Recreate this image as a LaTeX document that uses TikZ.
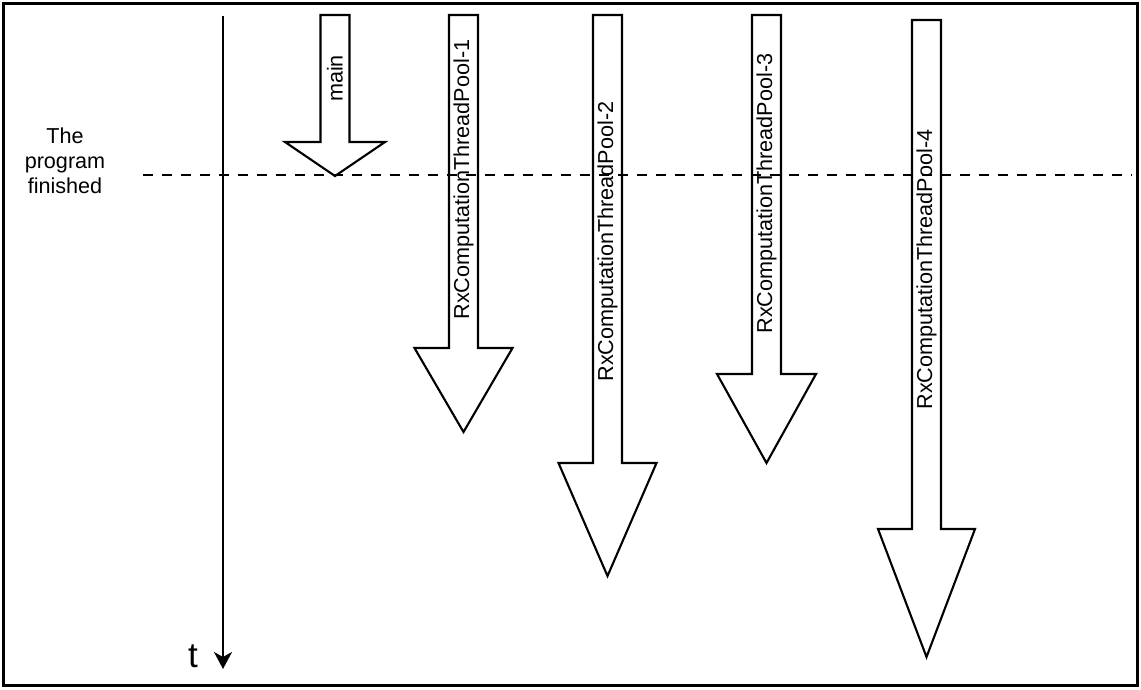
\documentclass[tikz,border=0pt]{standalone}
\usepackage{fontspec}
\setmainfont{Liberation Sans}
\usepackage{tikz}
\usetikzlibrary{arrows.meta,positioning}

\begin{document}
\begin{tikzpicture}[
    x=0.02cm, y=-0.02cm,
    every node/.style={font=\fontsize{12.3}{14.2}\selectfont},
    thread/.style={draw, line width=1.2pt, fill=white, line join=miter},
    threadlabel/.style={rotate=90, inner sep=0pt}
]
\useasboundingbox (0,0) rectangle (1141,689);
\draw[line width=1.2pt] (3.5,3.5) rectangle (1137.5,685.5);

% thread arrows: centre / top / head base / tip
\foreach \cx/\ytop/\ybase/\ytip/\hw in {335/15/142/176/50, 463.5/15/348/432/49, 607.5/15/463/576/49, 766.5/15/374/463/49.5, 926.5/20/529/657/48.5}
  \draw[thread] (\cx-14.5,\ytop) -- (\cx+14.5,\ytop) -- (\cx+14.5,\ybase) -- (\cx+\hw,\ybase)
    -- (\cx,\ytip) -- (\cx-\hw,\ybase) -- (\cx-14.5,\ybase) -- cycle;

\node[threadlabel] (main) at (335,78.5) {main};
\node[threadlabel] (pool1) at (463.5,179.5) {RxComputationThreadPool-1};
\node[threadlabel] (pool2) at (607.5,241.5) {RxComputationThreadPool-2};
\node[threadlabel] (pool3) at (766.5,193.5) {RxComputationThreadPool-3};
\node[threadlabel] (pool4) at (926.5,269.5) {RxComputationThreadPool-4};

% time axis
\coordinate (tstart) at (223,16);
\coordinate (tend) at (223,669);
\draw[line width=1.2pt, -{Stealth[length=0.34cm, width=0.36cm, inset=0.1cm]}] (tstart) -- (tend);
\node[font=\fontsize{20}{24}\selectfont] (tmark) at (193,656) {t};

% end of program
\coordinate (finstart) at (143,175);
\coordinate (finend) at (1132,175);
\draw[line width=1.6pt, dash pattern=on 0.2cm off 0.18cm] (finstart) -- (finend);
\node[align=center] (finished) at (65,160.5) {The\\program\\finished};

\end{tikzpicture}
\end{document}
